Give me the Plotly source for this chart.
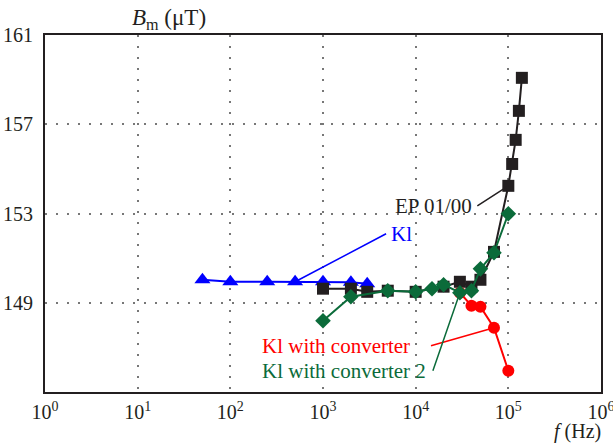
import plotly.graph_objects as go

# ---- data ----
kl_f = [50, 100, 250, 500, 1000, 2000, 3000]
kl_b = [150.03, 149.94, 149.94, 149.94, 149.94, 149.92, 149.85]

ep_f = [1000, 2000, 3000, 5000, 10000, 20000, 30000, 40000, 50000, 70000,
        100000, 110000, 120000, 130000, 140000]
ep_b = [149.63, 149.63, 149.49, 149.54, 149.49, 149.72, 149.94, 149.72, 150.03,
        151.28, 154.24, 155.22, 156.30, 157.60, 159.08]

conv_f = [30000, 40000, 50000, 70000, 100000]
conv_b = [149.45, 148.87, 148.82, 147.88, 145.95]

conv2_f = [1000, 2000, 5000, 10000, 15000, 20000, 30000, 40000, 50000, 70000, 100000]
conv2_b = [148.19, 149.27, 149.54, 149.49, 149.63, 149.81, 149.45, 149.54, 150.52,
           151.24, 152.99]

x_tickvals = [1, 10, 100, 1000, 10000, 100000, 1000000]
x_ticktext = ["10<sup>0</sup>", "10<sup>1</sup>", "10<sup>2</sup>", "10<sup>3</sup>",
              "10<sup>4</sup>", "10<sup>5</sup>", "10<sup>6</sup>"]
y_tickvals = [149, 153, 157, 161]
y_ticktext = ["149", "153", "157", "161"]

BLUE = "#0000FF"
BLACK = "#231F20"
RED = "#FF0000"
GREEN = "#0B6B3A"
FONT = "'Liberation Serif', 'Times New Roman', 'DejaVu Serif', serif"

fig = go.Figure()
fig.add_trace(go.Scatter(x=kl_f, y=kl_b, mode="lines+markers",
                         line=dict(color=BLUE, width=2),
                         marker=dict(symbol="triangle-up", size=14, color=BLUE)))
fig.add_trace(go.Scatter(x=ep_f, y=ep_b, mode="lines+markers",
                         line=dict(color=BLACK, width=2),
                         marker=dict(symbol="square", size=12, color=BLACK)))
fig.add_trace(go.Scatter(x=conv_f, y=conv_b, mode="lines+markers",
                         line=dict(color=RED, width=2),
                         marker=dict(symbol="circle", size=12, color=RED)))
fig.add_trace(go.Scatter(x=conv2_f, y=conv2_b, mode="lines+markers",
                         line=dict(color=GREEN, width=2),
                         marker=dict(symbol="diamond", size=12, color=GREEN)))

anns = []
# EP 01/00 -> black point at 1e5
anns.append(dict(x=5, y=ep_b[10], xref="x", yref="y", text="EP 01/00",
                 showarrow=True, arrowhead=0, arrowwidth=1.5, arrowcolor=BLACK,
                 ax=-31, ay=20, xanchor="right", yanchor="middle", borderpad=4,
                 font=dict(family=FONT, size=21, color=BLACK)))
# Kl -> blue point at 500 Hz
anns.append(dict(x=2.69897, y=kl_b[3], xref="x", yref="y", text="Kl",
                 showarrow=True, arrowhead=0, arrowwidth=1.5, arrowcolor=BLUE,
                 ax=91, ay=-48, xanchor="left", yanchor="middle", borderpad=4,
                 font=dict(family=FONT, size=21, color=BLUE)))
# Kl with converter -> red point at 7e4
anns.append(dict(x=4.845098, y=conv_b[3], xref="x", yref="y", text="Kl with converter",
                 showarrow=True, arrowhead=0, arrowwidth=1.5, arrowcolor=RED,
                 ax=-63, ay=18, xanchor="right", yanchor="middle", borderpad=20,
                 font=dict(family=FONT, size=21, color=RED)))
# Kl with converter 2 -> green point at 3e4
anns.append(dict(x=4.477121, y=conv2_b[6], xref="x", yref="y", text="Kl with converter 2",
                 showarrow=True, arrowhead=0, arrowwidth=1.5, arrowcolor=GREEN,
                 ax=-27, ay=78, xanchor="right", yanchor="middle", borderpad=6,
                 font=dict(family=FONT, size=21, color=GREEN)))
# axis titles
anns.append(dict(x=0.153, y=1, xref="paper", yref="paper", xanchor="left", yanchor="bottom",
                 text="<i>B</i><sub>m</sub> (μT)", showarrow=False, yshift=0,
                 font=dict(family=FONT, size=23, color=BLACK)))
anns.append(dict(x=1, y=0, xref="paper", yref="paper", xanchor="right", yanchor="top",
                 text="<i>f</i> (Hz)", showarrow=False, yshift=-27, xshift=1,
                 borderpad=0, font=dict(family=FONT, size=20, color=BLACK)))

fig.update_layout(
    width=613, height=444,
    margin=dict(l=45, r=12, t=35, b=52, autoexpand=False),
    paper_bgcolor="white", plot_bgcolor="white",
    showlegend=False,
    font=dict(family=FONT, size=19, color=BLACK),
    annotations=anns,
)
fig.update_xaxes(type="log", range=[0, 6], tickvals=x_tickvals, ticktext=x_ticktext,
                 showline=True, mirror=True, linecolor=BLACK, linewidth=2,
                 showgrid=True, gridcolor="#777777", gridwidth=1.5, griddash="2px,9px",
                 zeroline=False, ticks="", ticklabelstandoff=1, automargin=False,
                 ticklabeloverflow="allow",
                 tickfont=dict(family=FONT, size=20, color=BLACK))
fig.update_yaxes(range=[145, 161], tickvals=y_tickvals, ticktext=y_ticktext,
                 showline=True, mirror=True, linecolor=BLACK, linewidth=2,
                 showgrid=True, gridcolor="#777777", gridwidth=1.5, griddash="2px,9px",
                 zeroline=False, ticks="", ticklabelstandoff=6, automargin=False,
                 tickfont=dict(family=FONT, size=20, color=BLACK))

fig.write_html("out.html")
